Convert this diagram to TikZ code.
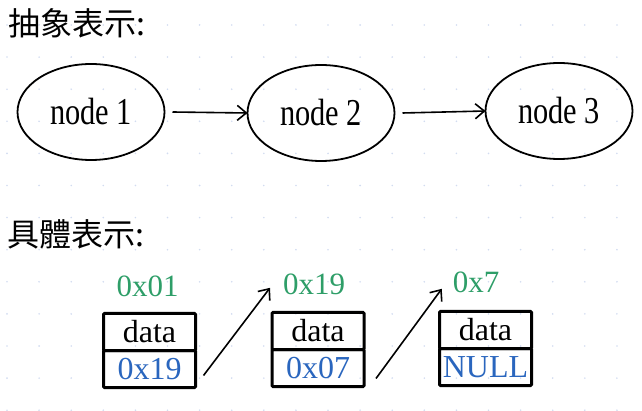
\documentclass[tikz,border=0pt]{standalone}
\usepackage{fontspec}
\setmainfont{Liberation Serif}
\newfontfamily\narrowserif[FakeStretch=0.8]{Liberation Serif}
\newfontfamily\cjk{Noto Sans CJK TC}
\usepackage{tikz}
\usetikzlibrary{shapes.geometric, positioning, arrows.meta}
\definecolor{addrgreen}{HTML}{2E9E68}
\definecolor{ptrblue}{HTML}{2A66BE}
\definecolor{griddot}{HTML}{D2DCF0}
\newcommand{\addr}[1]{\textcolor{addrgreen}{#1}}
\newcommand{\ptr}[1]{\textcolor{ptrblue}{#1}}

\begin{document}
\begin{tikzpicture}[x=1pt, y=-1pt]
    \tikzstyle{every node}=[inner sep=0pt, outer sep=0pt];
    \tikzstyle{listnode}=[draw, ellipse, line width=1.8pt, minimum width=147pt, minimum height=96pt, font=\fontsize{38}{40}\narrowserif];
    \tikzstyle{cell}=[draw, line width=3pt, rounded corners=1pt, minimum width=92pt, minimum height=37pt, font=\fontsize{32}{34}\selectfont];
    \tikzstyle{addrtag}=[anchor=base, font=\fontsize{31}{33}\selectfont];
    \tikzstyle{title}=[anchor=base west, font=\fontsize{32}{34}\cjk];
    \tikzstyle{link}=[line width=1.6pt, -{Straight Barb[length=9pt,width=15pt]}];
    \useasboundingbox (0,0) rectangle (642,411);
    % grid dots
    \foreach \gx in {0,...,19}
      \foreach \gy in {0,...,12}
        \fill[griddot] (7+32.1*\gx, 25+32.1*\gy) circle (0.9);
    % titles
    \node[title] (abstract) at (9,36) {抽象表示:};
    \node[title] (concrete) at (7,247) {具體表示:};
    % abstract list
    \node[listnode] (n1) at (91,112) {node 1};
    \node[listnode] (n2) at (321,113) {node 2};
    \node[listnode] (n3) at (559,111) {node 3};
    \draw[link] ([xshift=8pt]n1.east) -- (n2.west);
    \draw[link] ([xshift=8pt]n2.east) -- (n3.west);
    % concrete list
    \node[cell] (d1) at (149.5,332) {data};
    \node[cell, below=0pt of d1] (p1) {\ptr{0x19}};
    \node[cell] (d2) at (318,331) {data};
    \node[cell, below=0pt of d2] (p2) {\ptr{0x07}};
    \node[cell] (d3) at (485.5,330) {data};
    \node[cell, below=0pt of d3] (p3) {\ptr{NULL}};
    % addresses
    \node[addrtag] (a1) at (147.5,297) {\addr{0x01}};
    \node[addrtag] (a2) at (314,295) {\addr{0x19}};
    \node[addrtag] (a3) at (476,293) {\addr{0x7}};
    \draw[link] ([shift={(8,-12)}]p1.south east) -- ([xshift=-13pt,yshift=-3pt]a2.west);
    \draw[link] ([shift={(12,-8)}]p2.south east) -- ([xshift=-11pt,yshift=-6pt]a3.west);
\end{tikzpicture}
\end{document}
